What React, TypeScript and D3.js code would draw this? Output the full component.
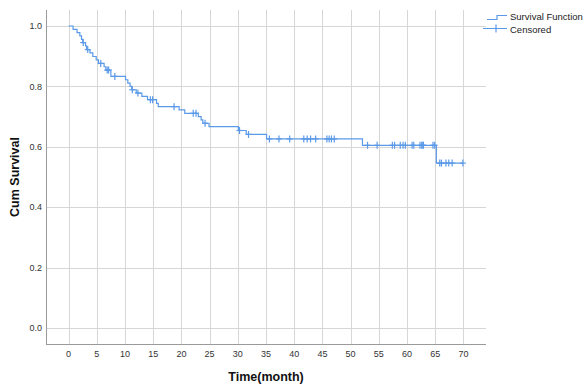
import { useEffect, useRef } from 'react';
import * as d3 from 'd3';

// Kaplan-Meier steps: time (month) and survival after the drop
const stepTimes = [
  0.8, 1.5, 2.0, 2.3, 2.5, 3.0, 3.2, 3.8, 4.3, 4.9, 5.3, 6.3, 6.6, 7.5,
  10.1, 10.5, 10.9, 11.2, 12.0, 13.0, 14.0, 15.6, 15.9, 19.6, 20.6, 23.0,
  23.5, 23.8, 24.9, 30.1, 31.5, 35.1, 52.1, 65.2,
];
const stepSurvival = [
  0.989, 0.978, 0.967, 0.956, 0.945, 0.934, 0.922, 0.911, 0.899, 0.888, 0.876, 0.865, 0.854, 0.833,
  0.822, 0.811, 0.8, 0.789, 0.778, 0.767, 0.756, 0.744, 0.733, 0.722, 0.711, 0.7,
  0.689, 0.678, 0.667, 0.654, 0.641, 0.626, 0.605, 0.546,
];
const censoredTimes = [
  2.6, 3.4, 5.7, 6.85, 7.1, 8.2, 11.3, 12.3, 14.5, 14.9, 18.7, 22.1, 22.6, 24.2,
  30.3, 31.9, 35.6, 37.3, 39.2, 41.7, 42.3, 42.9, 43.8, 45.8, 46.2, 46.6, 47.1,
  53.0, 54.7, 57.4, 57.8, 58.8, 59.3, 59.7, 60.9, 61.2, 62.3, 62.6, 62.8, 62.9,
  64.6, 64.9, 65.8, 66.1, 66.9, 67.4, 68.0, 69.9,
];
const xTicks = [0, 5, 10, 15, 20, 25, 30, 35, 40, 45, 50, 55, 60, 65, 70];
const yTicks = [0, 0.2, 0.4, 0.6, 0.8, 1.0];

const W = 584;
const H = 385;
const LINE = '#5b9ae8';

export default function App() {
  const svgRef = useRef<SVGSVGElement>(null);

  useEffect(() => {
    if (!svgRef.current) return;
    const svg = d3.select(svgRef.current);
    svg.selectAll('*').remove();

    const left = 46;
    const right = 486;
    const top = 10;
    const bottom = 344;

    const x = d3.scaleLinear().domain([-4, 74]).range([left, right]);
    const y = d3.scaleLinear().domain([-0.053, 1.053]).range([bottom, top]);

    // grid
    svg
      .append('g')
      .selectAll('line')
      .data(xTicks)
      .enter()
      .append('line')
      .attr('x1', (d) => Math.round(x(d)) + 0.5)
      .attr('x2', (d) => Math.round(x(d)) + 0.5)
      .attr('y1', top)
      .attr('y2', bottom)
      .attr('stroke', '#d6d6d6');
    svg
      .append('g')
      .selectAll('line')
      .data(yTicks)
      .enter()
      .append('line')
      .attr('x1', left)
      .attr('x2', right)
      .attr('y1', (d) => Math.round(y(d)) + 0.5)
      .attr('y2', (d) => Math.round(y(d)) + 0.5)
      .attr('stroke', '#d6d6d6');

    // axes lines
    svg
      .append('line')
      .attr('x1', left + 0.5)
      .attr('x2', left + 0.5)
      .attr('y1', top)
      .attr('y2', bottom)
      .attr('stroke', '#9a9a9a');
    svg
      .append('line')
      .attr('x1', left)
      .attr('x2', right)
      .attr('y1', bottom + 0.5)
      .attr('y2', bottom + 0.5)
      .attr('stroke', '#9a9a9a');

    // tick labels
    svg
      .append('g')
      .selectAll('text')
      .data(xTicks)
      .enter()
      .append('text')
      .attr('x', (d) => x(d))
      .attr('y', 357)
      .attr('text-anchor', 'middle')
      .attr('fill', '#333')
      .style('font', '9px "Liberation Sans", Arial, sans-serif')
      .text((d) => String(d));
    svg
      .append('g')
      .selectAll('text')
      .data(yTicks)
      .enter()
      .append('text')
      .attr('x', 42)
      .attr('y', (d) => y(d) + 3.2)
      .attr('text-anchor', 'end')
      .attr('fill', '#333')
      .style('font', '9px "Liberation Sans", Arial, sans-serif')
      .text((d) => d.toFixed(1));

    // axis titles
    svg
      .append('text')
      .attr('x', (left + right) / 2)
      .attr('y', 381)
      .attr('text-anchor', 'middle')
      .attr('fill', '#111')
      .style('font', 'bold 12.5px "Liberation Sans", Arial, sans-serif')
      .text('Time(month)');
    svg
      .append('text')
      .attr('transform', `translate(19,${(top + bottom) / 2}) rotate(-90)`)
      .attr('text-anchor', 'middle')
      .attr('fill', '#111')
      .style('font', 'bold 12.5px "Liberation Sans", Arial, sans-serif')
      .text('Cum Survival');

    // survival step line
    const lastT = d3.max(censoredTimes) as number;
    const pts: [number, number][] = [[0, 1]];
    stepTimes.forEach((t, i) => pts.push([t, stepSurvival[i]]));
    pts.push([lastT, stepSurvival[stepSurvival.length - 1]]);
    const line = d3
      .line<[number, number]>()
      .x((d) => x(d[0]))
      .y((d) => y(d[1]))
      .curve(d3.curveStepAfter);
    svg
      .append('path')
      .datum(pts)
      .attr('d', line)
      .attr('fill', 'none')
      .attr('stroke', LINE)
      .attr('stroke-width', 1.2);

    // censored marks
    const survAt = (t: number) => {
      let s = 1;
      stepTimes.forEach((st, i) => {
        if (st <= t) s = stepSurvival[i];
      });
      return s;
    };
    const marks = svg.append('g').attr('stroke', LINE).attr('stroke-width', 1.2);
    censoredTimes.forEach((t) => {
      const cx = x(t);
      const cy = y(survAt(t));
      marks.append('line').attr('x1', cx).attr('x2', cx).attr('y1', cy - 3.5).attr('y2', cy + 3.5);
      marks.append('line').attr('x1', cx - 3).attr('x2', cx + 3).attr('y1', cy).attr('y2', cy);
    });

    // legend
    const lg = svg.append('g');
    lg.append('path')
      .attr('d', 'M487,19.5H497V15.5H507')
      .attr('fill', 'none')
      .attr('stroke', LINE)
      .attr('stroke-width', 1.2);
    lg.append('path')
      .attr('d', 'M483,28.5H507M496,24.5V32.5')
      .attr('fill', 'none')
      .attr('stroke', LINE)
      .attr('stroke-width', 1.2);
    lg.append('text')
      .attr('x', 510)
      .attr('y', 20)
      .attr('fill', '#222')
      .style('font', '9.5px "Liberation Sans", Arial, sans-serif')
      .text('Survival Function');
    lg.append('text')
      .attr('x', 510)
      .attr('y', 32.5)
      .attr('fill', '#222')
      .style('font', '9.5px "Liberation Sans", Arial, sans-serif')
      .text('Censored');
  }, []);

  return (
    <svg
      ref={svgRef}
      width={W}
      height={H}
      style={{ position: 'absolute', left: 0, top: 0, background: '#fff' }}
    />
  );
}
